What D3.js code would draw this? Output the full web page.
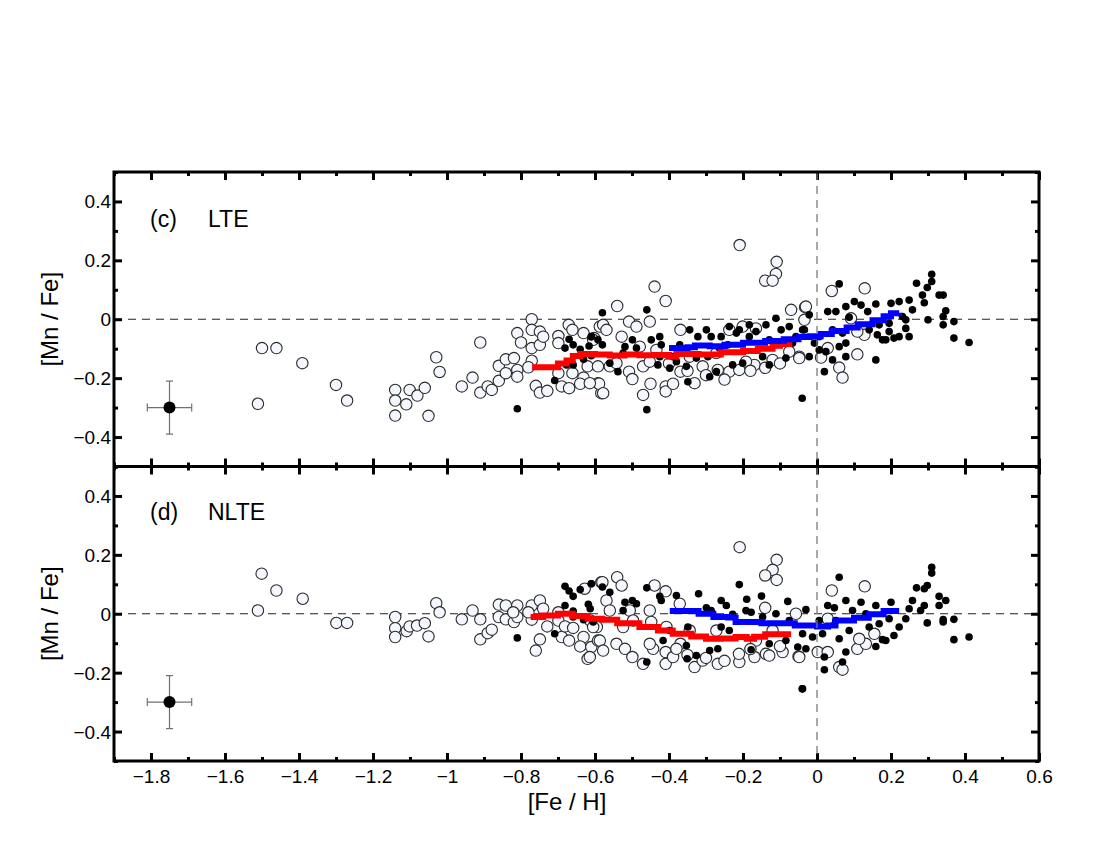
<!DOCTYPE html>
<html><head><meta charset="utf-8">
<script src="https://cdn.jsdelivr.net/npm/d3@7"></script>
<style>body{margin:0;background:#fff}svg{display:block}text{font-family:"Liberation Sans",Arial,Helvetica,sans-serif;fill:#000}</style>
</head><body><svg id="c" width="1100" height="850"></svg>
<script>
// ---------- data ----------
const xTicks = [-1.8,-1.6,-1.4,-1.2,-1,-0.8,-0.6,-0.4,-0.2,0,0.2,0.4,0.6];
const yTicks = [-0.4,-0.2,0,0.2,0.4];
const panelLabels = ["(c)","(d)"];
const panelNames = ["LTE","NLTE"];
const xTitle = "[Fe / H]";
const yTitle = "[Mn / Fe]";
const errPoint = [-1.75,-0.30];
const errX = 0.06, errY = 0.09;

const lteOpen = [[-1.500,-0.098],[-1.461,-0.098],[-1.391,-0.149],[-1.511,-0.287],[-1.300,-0.223],[-1.270,-0.276],[-1.029,-0.129],[-1.020,-0.179],[-1.140,-0.240],[-1.140,-0.276],[-1.140,-0.327],[-1.101,-0.240],[-1.110,-0.289],[-1.080,-0.259],[-1.060,-0.233],[-1.050,-0.328],[-0.960,-0.228],[-0.931,-0.198],[-0.910,-0.079],[-0.910,-0.249],[-0.890,-0.228],[-0.879,-0.240],[-0.860,-0.158],[-0.860,-0.209],[-0.841,-0.136],[-0.841,-0.183],[-0.819,-0.132],[-0.810,-0.047],[-0.810,-0.172],[-0.810,-0.195],[-0.800,-0.079],[-0.771,0.0],[-0.771,-0.036],[-0.771,-0.098],[-0.771,-0.141],[-0.780,-0.163],[-0.749,-0.042],[-0.749,-0.087],[-0.740,-0.059],[-0.760,-0.226],[-0.749,-0.249],[-0.729,-0.243],[-0.699,-0.057],[-0.699,-0.081],[-0.699,-0.183],[-0.690,-0.228],[-0.671,-0.019],[-0.661,-0.036],[-0.670,-0.234],[-0.661,-0.183],[-0.631,-0.047],[-0.631,-0.198],[-0.640,-0.219],[-0.620,-0.160],[-0.602,-0.064],[-0.592,-0.217],[-0.583,-0.251],[-0.587,-0.025],
[-0.209,0.252],[-0.109,0.195],[-0.111,0.154],[-0.140,0.131],[-0.120,0.131],[-0.439,0.111],[-0.409,0.062],[-0.540,0.045],[-0.452,-0.008],[-0.508,-0.008],[-0.488,-0.025],[-0.578,-0.019],[-0.569,-0.036],[-0.528,-0.059],[-0.560,-0.160],[-0.592,-0.160],[-0.508,-0.178],[-0.499,-0.203],[-0.470,-0.160],[-0.450,-0.219],[-0.470,-0.257],[-0.589,-0.219],[-0.578,-0.251],[-0.409,-0.228],[-0.409,-0.245],[-0.389,-0.219],[-0.452,-0.144],[-0.369,-0.036],[-0.369,-0.178],[-0.331,-0.217],[-0.309,-0.160],[-0.268,-0.172],[-0.237,-0.178],[-0.210,-0.172],[-0.169,-0.155],[-0.192,-0.144],[-0.237,-0.036],[-0.201,-0.025],[-0.165,-0.031],[-0.070,0.032],[-0.032,0.041],[-0.048,-0.127],[-0.075,-0.110],[-0.120,-0.138],[-0.272,-0.115],[-0.344,-0.127],[-0.614,-0.217],[-0.605,-0.070],[-0.479,-0.093],[-0.434,-0.104],[-0.542,-0.149],
[-0.400,-0.150],[-0.350,-0.175],[-0.300,-0.190],[-0.250,-0.205],[-0.180,-0.175],[-0.140,-0.165],[-0.100,-0.150],
[0.040,0.096],[0.129,0.105],[-0.030,0.043],[-0.034,-0.002],[0.109,-0.119],[0.060,-0.164],[0.069,-0.198],[0.011,-0.130],[0.128,-0.053],[0.109,-0.042],[0.029,-0.098],[-0.048,-0.132],[0.092,0.003]];

const lteFilled = [[-0.810,-0.304],[-0.709,-0.208],[-0.670,-0.068],[-0.659,-0.087],[-0.681,-0.098],[-0.640,-0.102],[-0.610,-0.059],[-0.616,-0.091],[-0.631,-0.136],[-0.677,-0.155],[-0.659,-0.155],[-0.610,-0.124],[-0.592,-0.070],
[-0.580,0.022],[-0.460,0.032],[-0.460,-0.307],[-0.040,-0.268],[-0.499,-0.070],[-0.519,-0.093],[-0.488,-0.098],[-0.610,-0.059],[-0.580,-0.087],[-0.560,-0.149],[-0.538,-0.178],[-0.448,-0.070],[-0.425,-0.059],[-0.421,-0.087],[-0.430,-0.155],[-0.398,-0.166],[-0.380,-0.144],[-0.353,-0.160],[-0.349,-0.212],[-0.344,-0.036],[-0.322,-0.059],[-0.299,-0.036],[-0.286,-0.059],[-0.259,-0.059],[-0.237,-0.025],[-0.210,-0.036],[-0.183,-0.019],[-0.165,-0.042],[-0.138,-0.019],[-0.111,0.003],[-0.097,-0.036],[-0.129,-0.070],[-0.147,-0.127],[-0.129,-0.155],[-0.084,-0.132],[-0.066,-0.081],[-0.039,-0.036],[-0.264,-0.098],[-0.241,-0.087],[-0.295,-0.127],[-0.272,-0.178],[-0.290,-0.195],[-0.228,-0.155],[-0.201,-0.149],[-0.371,-0.087],[-0.389,-0.127],[-0.326,-0.132],[-0.218,-0.047],[-0.183,-0.059],[-0.075,-0.025],[-0.057,-0.059],[-0.524,-0.115],[-0.425,-0.127],
[0.060,0.120],[0.310,0.153],[0.310,0.128],[0.269,0.122],[0.298,0.108],[0.285,0.082],[0.330,0.082],[0.341,0.082],[0.290,0.056],[0.348,0.029],[0.341,0.009],[0.300,-0.002],[0.370,-0.008],[0.341,-0.019],[0.370,-0.064],[0.411,-0.079],[0.249,-0.059],[0.222,-0.059],[0.208,-0.064],[0.186,-0.070],[0.177,-0.070],[0.240,-0.031],[0.249,0.065],[0.222,0.060],[0.200,0.054],[0.159,0.052],[0.101,0.060],[0.078,0.043],[0.119,0.048],[0.051,0.026],[0.029,0.026],[-0.021,0.015],[0.258,0.032],[0.231,0.009],[0.240,-0.002],[0.159,-0.138],[0.020,-0.178],[0.087,0.007],[0.137,0.026],[0.168,-0.019],[0.195,-0.014],[0.141,-0.036],[0.069,-0.047],[0.042,-0.036],[0.006,-0.059],[0.078,-0.081],[0.060,-0.093],[0.024,-0.110],[0.078,-0.127],[-0.021,-0.127],[-0.007,-0.081],[-0.034,-0.036],[0.042,-0.138],[0.006,-0.104],[0.163,-0.053],[0.195,-0.042]];

const lteRedX = [-0.770,-0.705,-0.700,-0.677,-0.660,-0.640,-0.600,-0.560,-0.520,-0.480,-0.440,-0.400,-0.380,-0.320,-0.260,-0.200,-0.160,-0.120,-0.100,-0.075];
const lteRedY = [-0.163,-0.163,-0.150,-0.140,-0.125,-0.118,-0.120,-0.123,-0.120,-0.122,-0.121,-0.127,-0.118,-0.120,-0.112,-0.108,-0.100,-0.090,-0.084,-0.077];
const lteBlueX = [-0.400,-0.350,-0.330,-0.290,-0.250,-0.200,-0.140,-0.090,-0.050,-0.020,0.010,0.040,0.080,0.110,0.150,0.180,0.200,0.222];
const lteBlueY = [-0.098,-0.095,-0.089,-0.092,-0.087,-0.080,-0.074,-0.068,-0.060,-0.058,-0.050,-0.040,-0.028,-0.017,-0.003,0.010,0.020,0.022];

const nlteOpen = [[-1.501,0.136],[-1.461,0.079],[-1.390,0.051],[-1.511,0.011],[-1.299,-0.031],[-1.270,-0.031],
[-1.140,-0.011],[-1.140,-0.049],[-1.140,-0.079],[-1.109,-0.059],[-1.101,-0.043],[-1.081,-0.040],[-1.060,-0.032],[-1.050,-0.077],[-1.029,0.036],[-1.020,0.005],[-0.960,-0.019],[-0.931,0.011],[-0.910,-0.019],[-0.910,-0.087],[-0.890,-0.066],[-0.879,-0.054],[-0.860,0.031],[-0.860,-0.011],[-0.841,0.028],[-0.841,-0.019],[-0.819,-0.028],[-0.810,0.028],[-0.810,-0.011],[-0.821,0.005],[-0.771,0.028],[-0.771,-0.020],[-0.780,0.005],[-0.749,0.045],[-0.740,0.017],[-0.749,-0.087],[-0.760,-0.125],[-0.729,-0.043],[-0.699,0.005],[-0.699,-0.023],[-0.690,-0.079],[-0.670,-0.091],[-0.681,-0.043],[-0.659,-0.048],[-0.631,-0.079],[-0.640,-0.111],[-0.620,-0.153],[-0.610,-0.113],[-0.592,-0.091],[-0.628,0.085],[-0.583,0.107],[-0.613,-0.023],[-0.595,-0.045],
[-0.209,0.226],[-0.109,0.183],[-0.120,0.149],[-0.140,0.130],[-0.109,0.115],[-0.540,0.124],[-0.528,0.096],[-0.580,0.107],[-0.439,0.096],[-0.409,0.076],[-0.569,0.045],[-0.560,0.011],[-0.506,0.011],[-0.497,-0.023],[-0.452,0.011],[-0.448,-0.028],[-0.587,-0.091],[-0.578,-0.125],[-0.542,-0.102],[-0.519,-0.119],[-0.499,-0.147],[-0.470,-0.170],[-0.443,-0.119],[-0.409,-0.130],[-0.409,-0.170],[-0.389,-0.147],[-0.371,0.034],[-0.369,-0.102],[-0.331,-0.181],[-0.309,-0.159],[-0.268,-0.170],[-0.210,-0.164],[-0.169,-0.147],[-0.138,-0.136],[-0.129,-0.142],[-0.093,-0.130],[-0.050,-0.145],[-0.211,-0.136],[-0.140,0.020],[-0.057,0.0],[-0.120,-0.057],[-0.165,-0.091],[-0.272,-0.057],[-0.344,-0.057],[-0.407,-0.045],[-0.524,-0.045],[-0.605,-0.045],[-0.614,-0.147],[-0.452,-0.102],[-0.380,-0.119],
[-0.350,-0.140],[-0.300,-0.150],[-0.250,-0.160],[-0.180,-0.120],[-0.100,-0.110],
[0.040,0.079],[0.129,0.093],[0.109,-0.119],[0.060,-0.181],[0.069,-0.190],[0.002,-0.130],[0.029,-0.130],[0.132,-0.102],[0.114,-0.085],[0.155,-0.068],[-0.048,-0.147],[0.029,-0.017]];

const nlteFilled = [[-0.810,-0.082],[-0.709,-0.068],[-0.681,0.093],[-0.670,0.077],[-0.659,0.059],[-0.640,0.082],[-0.610,0.102],[-0.681,0.028],[-0.659,0.009],[-0.618,0.032],[-0.613,0.017],[-0.631,-0.020],[-0.605,-0.028],[-0.659,-0.011],
[-0.610,0.102],[-0.580,0.091],[-0.560,0.073],[-0.460,0.088],[-0.425,0.059],[-0.421,0.045],[-0.380,0.062],[-0.320,0.068],[-0.259,0.045],[-0.210,0.099],[-0.190,0.049],[-0.150,0.060],[-0.079,0.042],[-0.192,0.011],[-0.178,0.005],[-0.299,0.020],[-0.286,0.011],[-0.245,0.028],[-0.228,-0.002],[-0.519,0.039],[-0.499,0.045],[-0.488,0.034],[-0.524,0.011],[-0.398,-0.057],[-0.349,-0.045],[-0.353,-0.108],[-0.351,-0.153],[-0.326,-0.142],[-0.290,-0.125],[-0.268,-0.119],[-0.259,-0.045],[-0.237,-0.057],[-0.460,-0.164],[-0.040,-0.255],[-0.129,-0.102],[-0.084,-0.091],[-0.111,0.0],[-0.075,-0.023],[-0.147,-0.011],[-0.178,-0.122],[-0.039,-0.068],[-0.416,-0.091],[-0.052,-0.113],
[0.060,0.124],[0.310,0.158],[0.310,0.138],[0.269,0.088],[0.298,0.096],[0.290,0.085],[0.330,0.059],[0.348,0.045],[0.330,0.028],[0.258,0.045],[0.290,0.028],[0.280,0.011],[0.298,-0.031],[0.341,-0.020],[0.341,-0.028],[0.370,-0.019],[0.370,-0.088],[0.411,-0.079],[0.249,0.017],[0.240,-0.017],[0.222,-0.045],[0.208,-0.074],[0.186,-0.091],[0.177,-0.088],[0.159,-0.111],[0.200,0.039],[0.159,0.028],[0.119,0.039],[0.078,0.045],[0.029,0.028],[0.047,0.020],[-0.030,0.014],[0.020,-0.190],[-0.039,-0.255],[0.069,-0.164],[0.078,-0.130],[0.060,-0.085],[0.020,-0.147],[-0.012,-0.079],[0.015,-0.068],[-0.030,-0.119],[0.087,-0.057],[0.141,-0.045],[0.096,0.011],[0.132,0.0],[0.168,-0.034],[0.195,-0.017],[0.051,-0.023],[0.006,-0.023]];

const nlteRedX = [-0.774,-0.740,-0.700,-0.660,-0.620,-0.580,-0.540,-0.480,-0.430,-0.390,-0.340,-0.300,-0.260,-0.220,-0.190,-0.170,-0.140,-0.070];
const nlteRedY = [-0.011,-0.006,0.000,-0.008,-0.017,-0.020,-0.032,-0.045,-0.057,-0.068,-0.077,-0.085,-0.084,-0.079,-0.085,-0.078,-0.070,-0.070];
const nlteBlueX = [-0.398,-0.340,-0.320,-0.280,-0.240,-0.220,-0.150,-0.070,-0.060,0.000,0.030,0.050,0.100,0.140,0.180,0.222];
const nlteBlueY = [0.009,0.009,0.000,-0.011,-0.013,-0.028,-0.032,-0.032,-0.040,-0.043,-0.040,-0.023,-0.014,-0.002,0.009,0.009];

// ---------- drawing ----------
const svg = d3.select("#c");
const L = 114, R = 1039, T = 172, M = 466.5, B = 761;
const x = d3.scaleLinear().domain([-1.9,0.6]).range([L,R]);
const yScales = [
  d3.scaleLinear().domain([-0.5,0.5]).range([M,T]),
  d3.scaleLinear().domain([-0.5,0.5]).range([B,M])
];
const xMinor = d3.range(-19,7).map(i=>+(i/10).toFixed(1)).filter(v=>Math.round(Math.abs(v*10))%2===1);
const yMinor = d3.range(-5,6).map(i=>+(i/10).toFixed(1)).filter(v=>Math.round(Math.abs(v*10))%2===1);
const fmt = d3.format("");

const panels = [
  {y:yScales[0], open:lteOpen, filled:lteFilled, rx:lteRedX, ry:lteRedY, bx:lteBlueX, by:lteBlueY},
  {y:yScales[1], open:nlteOpen, filled:nlteFilled, rx:nlteRedX, ry:nlteRedY, bx:nlteBlueX, by:nlteBlueY}
];

function styleAxis(g, w){
  g.select(".domain").remove();
  g.selectAll(".tick line").attr("stroke","#000").attr("stroke-width",w);
}

panels.forEach((p,i)=>{
  const y = p.y;
  const g = svg.append("g");
  g.append("line").attr("x1",L).attr("x2",R).attr("y1",y(0)).attr("y2",y(0))
    .attr("stroke","#222").attr("stroke-width",1).attr("stroke-dasharray","8,6");
  g.selectAll("circle.o").data(p.open).join("circle").attr("class","o")
    .attr("cx",d=>x(d[0])).attr("cy",d=>y(d[1])).attr("r",5.7)
    .attr("fill","#f5f7ff").attr("stroke","#2a2a2a").attr("stroke-width",1.1);
  g.selectAll("circle.f").data(p.filled).join("circle").attr("class","f")
    .attr("cx",d=>x(d[0])).attr("cy",d=>y(d[1])).attr("r",3.8).attr("fill","#000");
  const line = d3.line().x(d=>x(d[0])).y(d=>y(d[1])).curve(d3.curveStepAfter);
  g.append("path").datum(p.rx.map((v,k)=>[v,p.ry[k]])).attr("d",line)
    .attr("fill","none").attr("stroke","#ff0000").attr("stroke-width",6);
  g.append("path").datum(p.bx.map((v,k)=>[v,p.by[k]])).attr("d",line)
    .attr("fill","none").attr("stroke","#0000ff").attr("stroke-width",6);
  // error bar
  const ex = x(errPoint[0]), ey = y(errPoint[1]);
  const eb = g.append("g").attr("stroke","#707070").attr("stroke-width",1.2);
  eb.append("line").attr("x1",x(errPoint[0]-errX)).attr("x2",x(errPoint[0]+errX)).attr("y1",ey).attr("y2",ey);
  eb.append("line").attr("x1",ex).attr("x2",ex).attr("y1",y(errPoint[1]-errY)).attr("y2",y(errPoint[1]+errY));
  [errPoint[0]-errX, errPoint[0]+errX].forEach(v=>eb.append("line").attr("x1",x(v)).attr("x2",x(v)).attr("y1",ey-4).attr("y2",ey+4));
  [errPoint[1]-errY, errPoint[1]+errY].forEach(v=>eb.append("line").attr("x1",ex-3.5).attr("x2",ex+3.5).attr("y1",y(v)).attr("y2",y(v)));
  g.append("circle").attr("cx",ex).attr("cy",ey).attr("r",6).attr("fill","#000");

  const ly = i===0 ? 227 : 520;
  g.append("text").attr("x",150).attr("y",ly).attr("font-size",23).text(panelLabels[i]);
  g.append("text").attr("x",208).attr("y",ly).attr("font-size",23).text(panelNames[i]);

  const yl = svg.append("g").attr("transform",`translate(${L},0)`)
    .call(d3.axisLeft(y).tickValues(yTicks).tickSize(-8).tickPadding(4).tickFormat(fmt));
  styleAxis(yl,3);
  yl.selectAll("text").attr("font-size",19).attr("x",-3).attr("dy","0.34em");
  styleAxis(svg.append("g").attr("transform",`translate(${L},0)`)
    .call(d3.axisLeft(y).tickValues(yMinor).tickSize(-4).tickFormat("")),3);
  styleAxis(svg.append("g").attr("transform",`translate(${R},0)`)
    .call(d3.axisRight(y).tickValues(yTicks).tickSize(-8).tickFormat("")),3);
  styleAxis(svg.append("g").attr("transform",`translate(${R},0)`)
    .call(d3.axisRight(y).tickValues(yMinor).tickSize(-4).tickFormat("")),3);

  const top = y.range()[1], bot = y.range()[0];
  styleAxis(svg.append("g").attr("transform",`translate(0,${top})`)
    .call(d3.axisTop(x).tickValues(xTicks).tickSize(-8).tickFormat("")),3);
  styleAxis(svg.append("g").attr("transform",`translate(0,${top})`)
    .call(d3.axisTop(x).tickValues(xMinor).tickSize(-4).tickFormat("")),3);
  const xb = svg.append("g").attr("transform",`translate(0,${bot})`)
    .call(d3.axisBottom(x).tickValues(xTicks).tickSize(-8).tickPadding(9).tickFormat(i===1?fmt:""));
  styleAxis(xb,3);
  xb.selectAll("text").attr("font-size",19);
  styleAxis(svg.append("g").attr("transform",`translate(0,${bot})`)
    .call(d3.axisBottom(x).tickValues(xMinor).tickSize(-4).tickFormat("")),3);

  svg.append("text").attr("transform",`translate(58,${(top+bot)/2}) rotate(-90)`)
    .attr("text-anchor","middle").attr("font-size",24).text(yTitle);
});

svg.append("line").attr("x1",x(0)).attr("x2",x(0)).attr("y1",T).attr("y2",B)
  .attr("stroke","#7a7a7a").attr("stroke-width",1.3).attr("stroke-dasharray","8,6");

svg.append("rect").attr("x",L).attr("y",T).attr("width",R-L).attr("height",B-T)
  .attr("fill","none").attr("stroke","#000").attr("stroke-width",3);
svg.append("line").attr("x1",L).attr("x2",R).attr("y1",M).attr("y2",M)
  .attr("stroke","#000").attr("stroke-width",3);

svg.append("text").attr("x",567).attr("y",810).attr("text-anchor","middle")
  .attr("font-size",24).text(xTitle);
</script></body></html>
